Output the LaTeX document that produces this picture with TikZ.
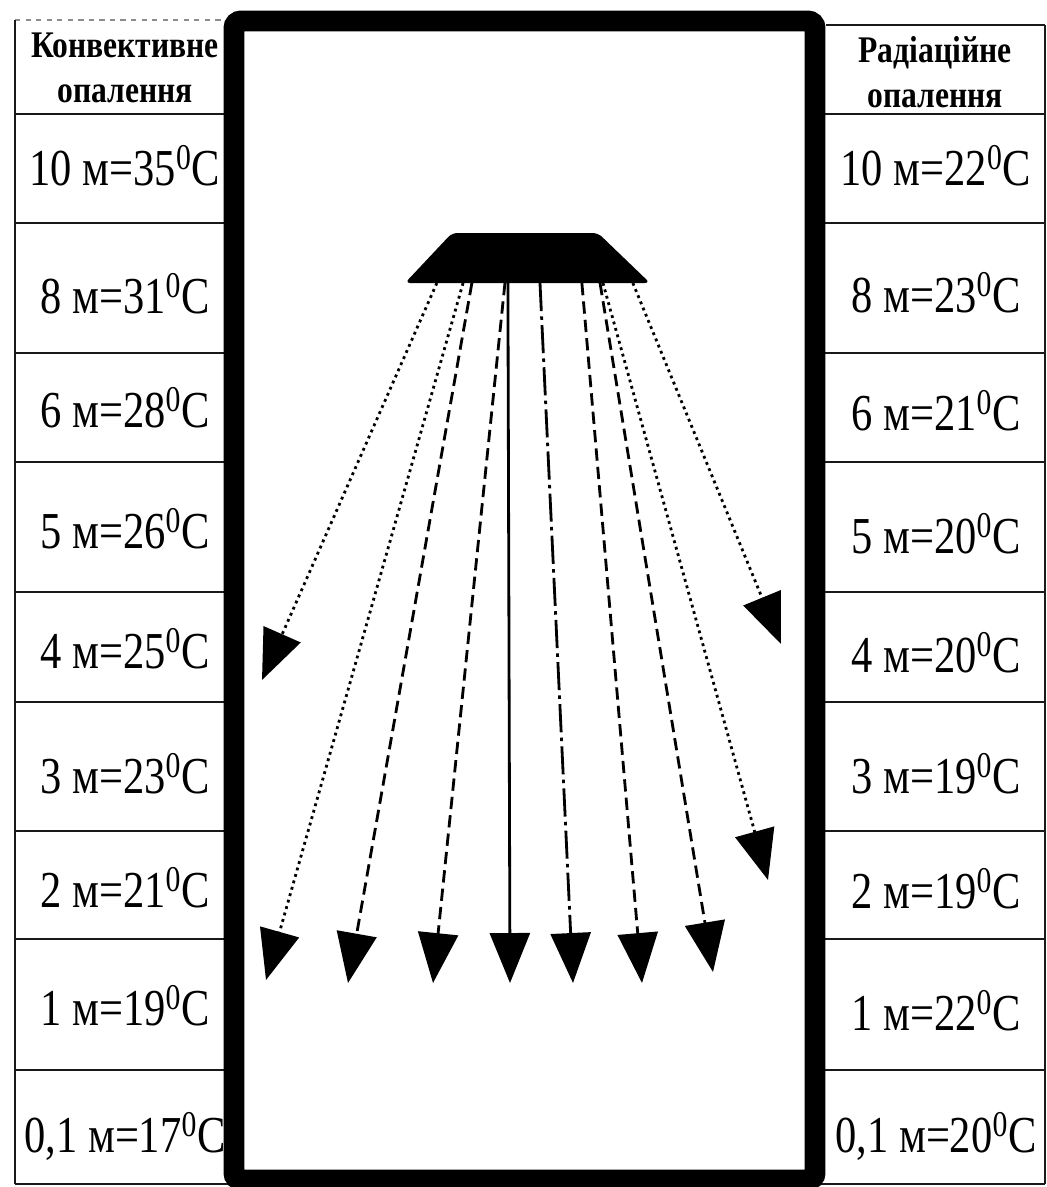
\documentclass[tikz,border=0pt]{standalone}
\usepackage{fontspec}
\setmainfont{Liberation Serif}
\newfontfamily\cellfont[FakeStretch=0.82]{Liberation Serif}
\newfontfamily\headfont[FakeStretch=0.84]{Liberation Serif}
\usetikzlibrary{
    arrows.meta,
    positioning,
    calc
}

\begin{document}
\begin{tikzpicture}[
    x=0.02cm,
    y=-0.02cm,
%
    cell/.style={
        anchor=base,
        inner sep=0pt,
        font=\cellfont\fontsize{29.5}{30}\selectfont
    },
%
    head/.style={
        align=center,
        inner sep=0pt,
        font=\headfont\bfseries\fontsize{21.4}{26}\selectfont
    },
%
    grid/.style={
        line width=1.3pt,
        color=black!90
    },
%
    wall/.style={
        line width=11.9pt,
        rounded corners=4pt
    },
%
    heater/.style={
        fill=black,
        rounded corners=3pt
    },
%
    ray/.style={
        -{Triangle[length=1cm,width=0.8cm]},
        line width=1.6pt
    },
    dots/.style={dash pattern=on 1.6pt off 2.2pt},
    dashes/.style={dash pattern=on 7pt off 3.5pt},
    dashdot/.style={dash pattern=on 16pt off 3pt on 2pt off 3pt},
    plain/.style={}
]
\useasboundingbox (0,0) rectangle (1047,1187);
%
% Tables on both sides of the room: heights and air temperatures.
%
\draw[grid, black!45, dashed, line width=0.6pt] (15,20) -- (234,20);
\draw[grid] (826,25) -- (1045,25);
\draw[grid] (15,20) -- (15,1184);
\draw[grid] (1045,25) -- (1045,1184);
\foreach \y in {114,223,353,462,592,702,831,939,1070,1184} {
    \draw[grid] (15,\y) -- (234,\y);
    \draw[grid] (815,\y) -- (1045,\y);
}
\node[head] (lhead) at (125,68) {Конвективне\\опалення};
\node[head] (rhead) at (935,72) {Радіаційне\\опалення};
%
\foreach \i/\y/\h/\t in {
    1/185/10/35, 2/313/8/31, 3/427/6/28, 4/548/5/26, 5/668/4/25,
    6/793/3/23, 7/907/2/21, 8/1025/1/19, 9/1152/{0,1}/17} {
    \node[cell] (l\i) at (125,\y) {\h{} м=\t\textsuperscript{0}C};
}
\foreach \i/\y/\h/\t in {
    1/185/10/22, 2/312/8/23, 3/430/6/21, 4/553/5/20, 5/672/4/20,
    6/793/3/19, 7/908/2/19, 8/1030/1/22, 9/1152/{0,1}/20} {
    \node[cell] (r\i) at (936,\y) {\h{} м=\t\textsuperscript{0}C};
}
%
% The room and the radiant heater under its ceiling.
%
\draw[wall] (234,21) rectangle (815,1180);
\coordinate (hl) at (405,283);
\coordinate (hr) at (650,283);
\fill[heater] (hl) -- (452,233) -- (598,233) -- (hr) -- cycle;
%
\foreach \n/\x/\y in {
    1/262/680, 2/266/980, 3/348/983, 4/433/983, 5/510/983,
    6/573/983, 7/642/983, 8/713/972, 9/768/880, 10/781/644} {
    \coordinate (t\n) at (\x,\y);
}
\foreach \n/\f/\pat in {
    1/0.13/dots, 2/0.237/dots, 3/0.273/dashes, 4/0.408/dashes,
    5/0.42/plain, 6/0.551/dashdot, 7/0.722/dashes, 8/0.796/dashes,
    9/0.808/dots, 10/0.93/dots} {
    \draw[ray, \pat] ($(hl)!\f!(hr)$) -- (t\n);
}
%
\end{tikzpicture}
\end{document}
